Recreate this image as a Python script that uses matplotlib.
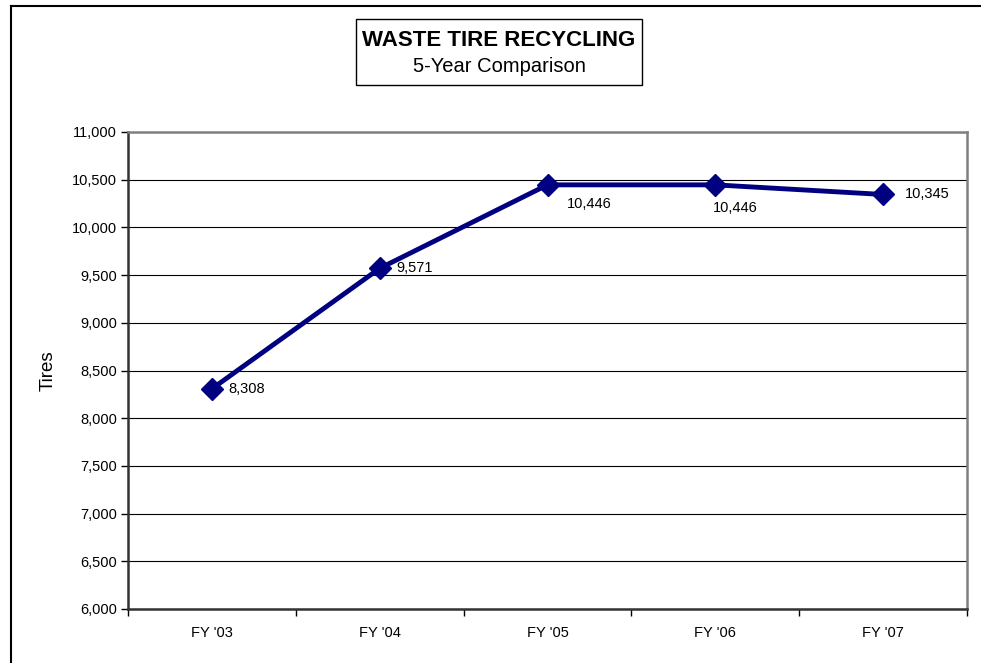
import matplotlib
matplotlib.use("Agg")
import matplotlib.pyplot as plt
from matplotlib.lines import Line2D
from matplotlib.ticker import FixedLocator, FuncFormatter

plt.rcParams['font.family'] = ['Liberation Sans', 'DejaVu Sans']

categories = ["FY '03", "FY '04", "FY '05", "FY '06", "FY '07"]
tires = [8308, 9571, 10446, 10446, 10345]
label_offsets = [(12, 0), (12, 0), (14, -14), (-2, -17), (16, 0)]

W, H = 981, 663
fig = plt.figure(figsize=(W / 100, H / 100), dpi=100)
ax = fig.add_axes([128 / W, 1 - 609 / H, (967 - 128) / W, (609 - 132) / H])

x = [i + 0.5 for i in range(len(categories))]
ax.plot(x, tires, color='#000080', lw=3.5, marker='D', markersize=11,
        markerfacecolor='#000080', markeredgecolor='#000080', zorder=5, clip_on=False)

for xi, v, off in zip(x, tires, label_offsets):
    ax.annotate(f"{v:,}", (xi, v), xytext=off, textcoords='offset points',
                ha='left', va='center', fontsize=10.5, color='black', zorder=6)

ax.set_xlim(0, len(categories))
ax.set_ylim(6000, 11000)
ax.set_yticks(range(6000, 11001, 500))
ax.yaxis.set_major_formatter(FuncFormatter(lambda v, p: f"{int(v):,}"))
ax.grid(axis='y', color='black', lw=0.8)
ax.set_axisbelow(True)

ax.xaxis.set_major_locator(FixedLocator(range(len(categories) + 1)))
ax.xaxis.set_minor_locator(FixedLocator(x))
ax.set_xticklabels([''] * (len(categories) + 1))
ax.set_xticklabels(categories, minor=True)
ax.tick_params(axis='x', which='minor', length=0, labelsize=10.5, pad=12)
ax.tick_params(axis='x', which='major', length=5, width=1, direction='out')
ax.tick_params(axis='y', length=5, width=1, direction='out', labelsize=10.5, pad=3)

for s in ['left', 'bottom']:
    ax.spines[s].set_color('#333333')
    ax.spines[s].set_linewidth(1.8)
for s in ['top', 'right']:
    ax.spines[s].set_color('#808080')
    ax.spines[s].set_linewidth(1.8)

ax.set_ylabel("Tires", fontsize=13.5, labelpad=11)

# title box
fig.add_artist(plt.Rectangle((356 / W, 1 - 85 / H), (642 - 356) / W, (85 - 19) / H,
                             transform=fig.transFigure, fill=False, edgecolor='black', lw=1))
fig.text(499 / W, 1 - 41 / H, "WASTE TIRE RECYCLING", ha='center', va='center',
         fontsize=16, fontweight='bold')
fig.text(499 / W, 1 - 67 / H, "5-Year Comparison", ha='center', va='center', fontsize=14.5)

# outer border (only left and top edges visible)
fig.add_artist(Line2D([11 / W, 11 / W], [0, 1 - 6 / H], transform=fig.transFigure,
                      color='black', lw=1.5))
fig.add_artist(Line2D([11 / W, 1], [1 - 6 / H, 1 - 6 / H], transform=fig.transFigure,
                      color='black', lw=1.5))

fig.savefig("out.png", dpi=100)
